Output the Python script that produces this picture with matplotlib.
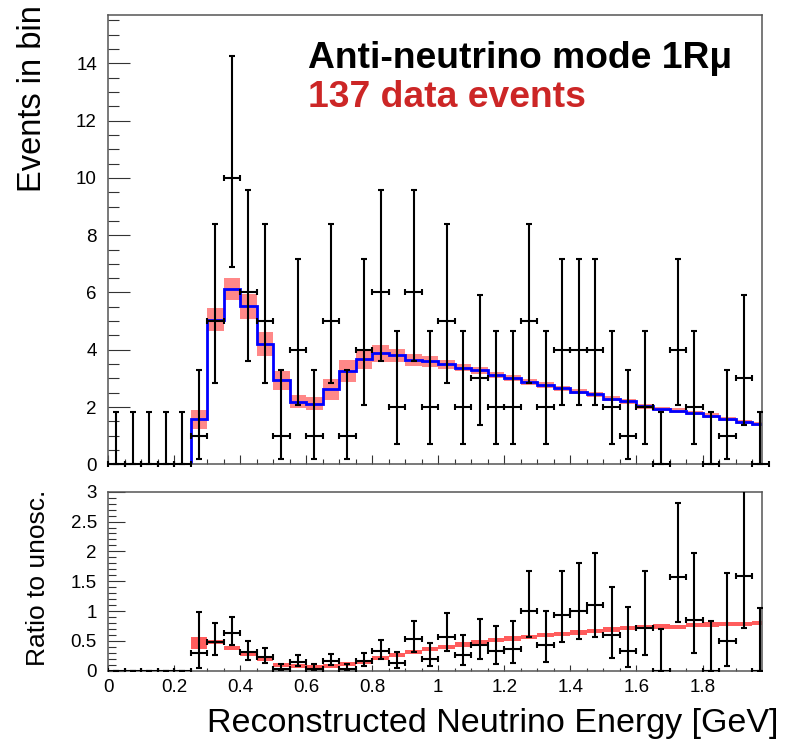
import numpy as np
import matplotlib
matplotlib.use("Agg")
import matplotlib.pyplot as plt
from matplotlib.ticker import MultipleLocator, FormatStrFormatter

plt.rcParams['font.family'] = ['Liberation Sans', 'DejaVu Sans']

# binning: 0.05 GeV bins from 0 to 2 GeV
bin_edges = np.round(np.arange(0, 2.0001, 0.05), 3)

# observed data events per bin
data = [0, 0, 0, 0, 0, 1, 5, 10, 6, 5,
        1, 4, 1, 5, 1, 4, 6, 2, 6, 2,
        5, 2, 3, 2, 2, 5, 2, 4, 4, 4,
        2, 1, 2, 0, 4, 2, 0, 1, 3, 0]

# oscillated MC prediction (best fit) per bin
mc = [0, 0, 0, 0, 0, 1.58, 5.05, 6.13, 5.52, 4.19,
      2.94, 2.19, 2.12, 2.62, 3.26, 3.67, 3.88, 3.80, 3.65, 3.59,
      3.49, 3.38, 3.28, 3.13, 3.01, 2.87, 2.77, 2.65, 2.54, 2.44,
      2.29, 2.20, 2.02, 1.93, 1.87, 1.79, 1.70, 1.59, 1.49, 1.41]

# MC uncertainty band (half height)
mc_err = [0, 0, 0, 0, 0, 0.33, 0.41, 0.38, 0.43, 0.42,
          0.33, 0.23, 0.23, 0.36, 0.37, 0.34, 0.30, 0.24, 0.20, 0.18,
          0.15, 0.13, 0.12, 0.11, 0.10, 0.10, 0.10, 0.09, 0.09, 0.09,
          0.09, 0.08, 0.08, 0.08, 0.08, 0.08, 0.08, 0.07, 0.07, 0.07]

# oscillated / unoscillated MC ratio
mc_ratio = [0, 0, 0, 0, 0, 0.47, 0.48, 0.385, 0.285, 0.19,
            0.10, 0.08, 0.067, 0.085, 0.11, 0.15, 0.21, 0.26, 0.32, 0.36,
            0.40, 0.44, 0.48, 0.51, 0.54, 0.57, 0.60, 0.62, 0.64, 0.67,
            0.69, 0.71, 0.73, 0.74, 0.735, 0.76, 0.775, 0.785, 0.785, 0.80]

# Poisson (Garwood) error bars for small counts: n -> (low, high)
poisson_err = {0: (0.0, 1.841), 1: (0.827, 2.300), 2: (1.292, 2.638),
               3: (1.633, 2.918), 4: (1.914, 3.162), 5: (2.159, 3.382),
               6: (2.380, 3.583), 10: (3.108, 4.266)}

title_text = "Anti-neutrino mode 1R\u03bc"
events_text = "137 data events"

# ------------------------------------------------------------------
data = np.array(data, dtype=float)
mc = np.array(mc)
mc_err = np.array(mc_err)
mc_ratio = np.array(mc_ratio)
centers = 0.5 * (bin_edges[:-1] + bin_edges[1:])
half_w = 0.025
err_lo = np.array([poisson_err[int(n)][0] for n in data])
err_hi = np.array([poisson_err[int(n)][1] for n in data])

has_mc = mc_ratio > 0
unosc = np.zeros_like(mc)
unosc[has_mc] = mc[has_mc] / mc_ratio[has_mc]
r_data = np.zeros_like(mc)
r_lo = np.zeros_like(mc)
r_hi = np.zeros_like(mc)
r_data[has_mc] = data[has_mc] / unosc[has_mc]
r_lo[has_mc] = err_lo[has_mc] / unosc[has_mc]
r_hi[has_mc] = err_hi[has_mc] / unosc[has_mc]
r_err = np.zeros_like(mc)
r_err[has_mc] = np.maximum(mc_err[has_mc] / unosc[has_mc], 0.035)

band_color = (1.0, 0.25, 0.25, 0.62)
ratio_band_color = (1.0, 0.2, 0.2, 0.8)
frame_color = '#555555'
xmax = 1.98

fig = plt.figure(figsize=(7.91, 7.40), dpi=100)
ax = fig.add_axes([108 / 791, 1 - 464.3 / 740, 654 / 791, 449.3 / 740])
axr = fig.add_axes([108 / 791, 1 - 670.7 / 740, 654 / 791, 179 / 740])

# ---- top panel: event spectrum
ax.bar(centers[has_mc], 2 * mc_err[has_mc], bottom=mc[has_mc] - mc_err[has_mc],
       width=0.05, color=band_color, linewidth=0, zorder=1)
ax.stairs(mc, bin_edges, color='#0000ff', linewidth=2.0, zorder=2)
ax.errorbar(centers, data, yerr=[err_lo, err_hi], xerr=half_w, fmt='none',
            ecolor='black', elinewidth=1.5, capsize=2.4, capthick=1.5,
            zorder=3, clip_on=False)

ax.set_xlim(0, xmax)
ax.set_ylim(0, 15.69)
ax.xaxis.set_major_locator(MultipleLocator(0.2))
ax.xaxis.set_minor_locator(MultipleLocator(0.05))
ax.yaxis.set_major_locator(MultipleLocator(2))
ax.yaxis.set_minor_locator(MultipleLocator(0.5))
ax.tick_params(axis='x', which='both', direction='in', labelbottom=False,
               top=False, width=0.8, color='#333333')
ax.tick_params(axis='x', which='major', length=6.5)
ax.tick_params(axis='x', which='minor', length=3.6)
ax.tick_params(axis='y', which='both', direction='in', right=False,
               width=0.8, color='#333333', labelsize=13.5, pad=8)
ax.tick_params(axis='y', which='major', length=16)
ax.tick_params(axis='y', which='minor', length=8)

# ---- bottom panel: ratio to unoscillated
axr.bar(centers[has_mc], 2 * r_err[has_mc], bottom=mc_ratio[has_mc] - r_err[has_mc],
        width=0.05, color=ratio_band_color, linewidth=0, zorder=1)
axr.errorbar(centers, r_data, yerr=[r_lo, r_hi], xerr=half_w, fmt='none',
             ecolor='black', elinewidth=1.5, capsize=2.4, capthick=1.5,
             zorder=3)

axr.set_xlim(0, xmax)
axr.set_ylim(0, 3)
axr.xaxis.set_major_locator(MultipleLocator(0.2))
axr.xaxis.set_minor_locator(MultipleLocator(0.05))
axr.yaxis.set_major_locator(MultipleLocator(0.5))
axr.yaxis.set_minor_locator(MultipleLocator(0.1))
axr.xaxis.set_major_formatter(FormatStrFormatter('%g'))
axr.yaxis.set_major_formatter(FormatStrFormatter('%g'))
axr.tick_params(axis='x', which='both', direction='in', top=False,
                width=0.8, color='#333333', labelsize=13.5, pad=6)
axr.tick_params(axis='x', which='major', length=4.5)
axr.tick_params(axis='x', which='minor', length=2.3)
axr.tick_params(axis='y', which='both', direction='in', right=False,
                width=0.8, color='#333333', labelsize=13.5, pad=8)
axr.tick_params(axis='y', which='major', length=12)
axr.tick_params(axis='y', which='minor', length=6)

for a in (ax, axr):
    for sp in a.spines.values():
        sp.set_color(frame_color)
        sp.set_linewidth(1.1)

# axis titles, ROOT style (aligned to the axis ends)
fig.text(33 / 791, 1 - 99 / 740, "Events in bin", rotation=90,
         ha='center', va='center', fontsize=23.5)
fig.text(38 / 791, 1 - 578 / 740, "Ratio to unosc.", rotation=90,
         ha='center', va='center', fontsize=19)
fig.text(778 / 791, 1 - 732 / 740, "Reconstructed Neutrino Energy [GeV]",
         ha='right', va='baseline', fontsize=24.5)

# annotation
fig.text(308 / 791, 1 - 68.3 / 740, title_text, ha='left', va='baseline',
         fontsize=26.8, fontweight='bold', color='black')
fig.text(308 / 791, 1 - 107.3 / 740, events_text, ha='left', va='baseline',
         fontsize=26.8, fontweight='bold', color='#cc2626')

fig.savefig("out.png", dpi=100)
